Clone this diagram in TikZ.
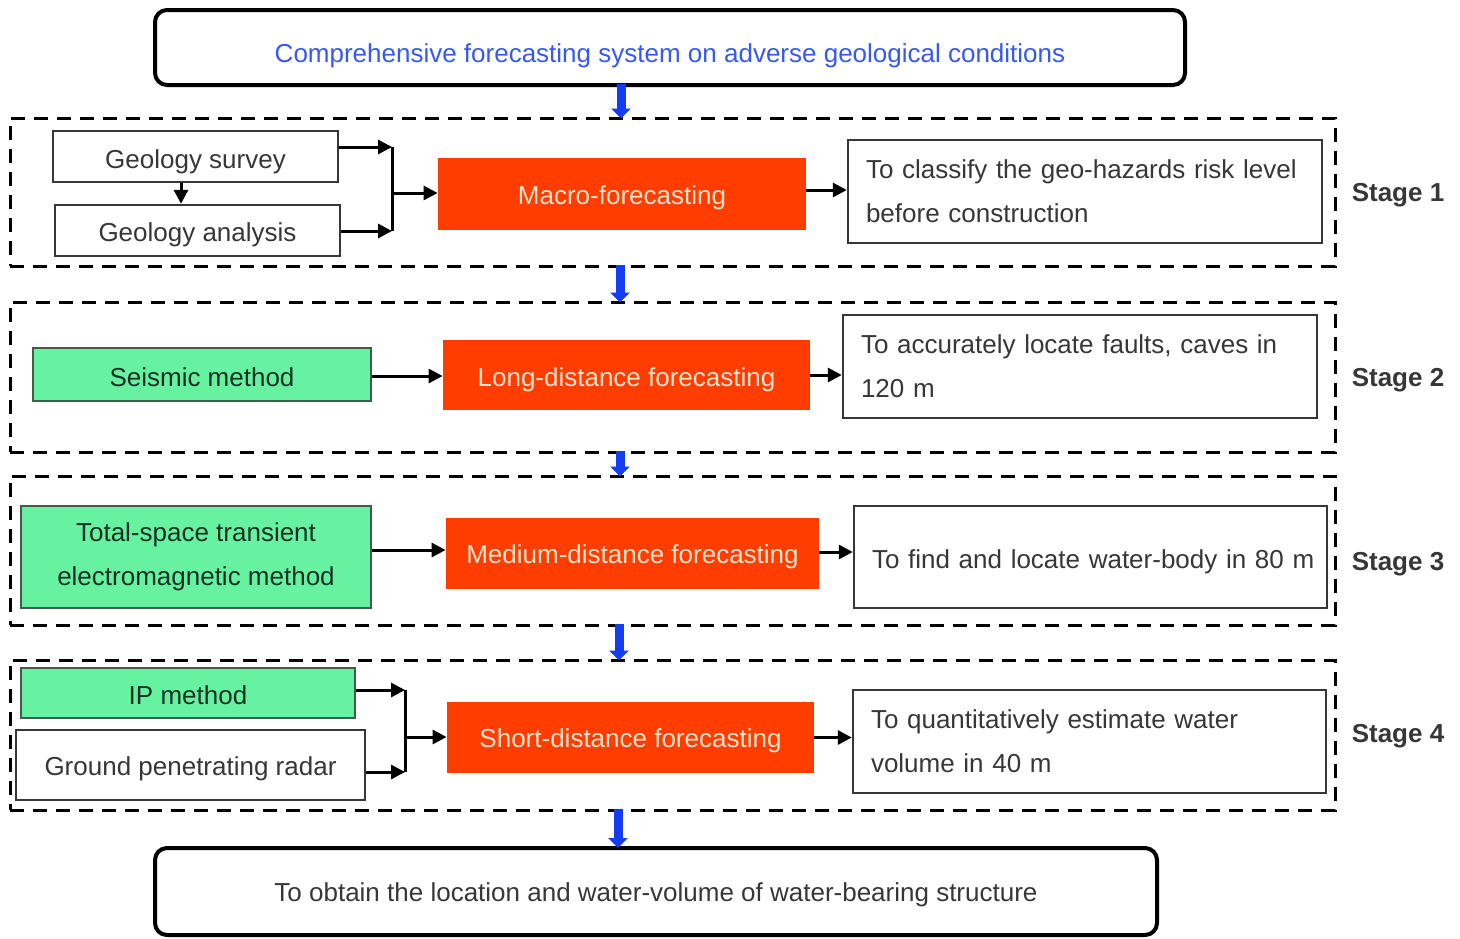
\documentclass[tikz,border=0pt]{standalone}
\usepackage{fontspec}
\setmainfont{Liberation Sans}
\usetikzlibrary{arrows.meta,calc}
\definecolor{fcorange}{RGB}{255,61,0}
\definecolor{fcgreen}{RGB}{102,242,160}
\definecolor{fcblue}{RGB}{20,60,240}
\definecolor{fctext}{RGB}{55,55,55}
\definecolor{fcpeach}{RGB}{255,228,205}
\definecolor{fcdark}{RGB}{20,50,35}
\tikzset{
  every node/.style={font=\fontsize{13}{22}\selectfont},
  oneline/.style={text height=11pt, text depth=0pt},
  endbox/.style={draw=black, line width=2pt, rounded corners=6pt, oneline},
  stagebox/.style={draw=black, line width=1.5pt, dash pattern=on 7pt off 4.5pt},
  plainbox/.style={draw=fctext, line width=1.2pt, fill=white, text=fctext, oneline},
  greenbox/.style={draw=fcdark!80, line width=1.2pt, fill=fcgreen, text=fcdark, align=center},
  hotbox/.style={fill=fcorange, text=fcpeach, oneline},
  notebox/.style={draw=fctext, line width=1.2pt, fill=white, text=fctext, align=left, inner xsep=9pt},
  stagelabel/.style={text=fctext, font=\fontsize{13}{16}\selectfont\bfseries},
  conn/.style={draw=black, line width=1.5pt},
  arr/.style={conn, -{Triangle[length=7pt,width=7pt]}},
  flow/.style={draw=fcblue, line width=4.5pt, -{Triangle[length=5pt,width=9.5pt]}, shorten >=-1pt, shorten <=-1.5pt},
}
\begin{document}
\begin{tikzpicture}[x=0.5pt,y=-0.5pt]
\useasboundingbox (0,0) rectangle (1460,938);

% title and final result
\node[endbox, minimum width=515pt, minimum height=37.5pt, text=fcblue!85, text height=14.5pt] (top) at (670,47.5)
  {Comprehensive forecasting system on adverse geological conditions};
\node[endbox, minimum width=501pt, minimum height=43.5pt, text=fctext, text height=10pt] (bottom) at (656,891.5)
  {To obtain the location and water-volume of water-bearing structure};

% stage frames
\node[stagebox, minimum width=662.5pt, minimum height=74pt] (s1) at (672.5,192) {};
\node[stagebox, minimum width=662.5pt, minimum height=75pt] (s2) at (672.5,377) {};
\node[stagebox, minimum width=662.5pt, minimum height=74.5pt] (s3) at (672.5,550.5) {};
\node[stagebox, minimum width=662.5pt, minimum height=75pt] (s4) at (672.5,735) {};

\node[stagelabel] (l1) at (1398,195) {Stage 1};
\node[stagelabel] (l2) at (1398,380) {Stage 2};
\node[stagelabel] (l3) at (1398,564) {Stage 3};
\node[stagelabel] (l4) at (1398,736) {Stage 4};

% stage 1
\node[plainbox, minimum width=142.5pt, minimum height=25.5pt, text height=11.5pt] (gs) at (195.5,156.5) {Geology survey};
\node[plainbox, minimum width=142.5pt, minimum height=25.5pt] (ga) at (197.5,230.5) {Geology analysis};
\node[hotbox, minimum width=184pt, minimum height=36pt, text height=10pt] (macro) at (622,194) {Macro-forecasting};
\node[notebox, minimum width=237pt, minimum height=51.5pt, text width=219pt] (c1) at (1085,191.5)
  {To classify the geo-hazards risk level\\before construction};

% stage 2
\node[greenbox, oneline, text height=11.5pt, minimum width=169pt, minimum height=26.5pt] (seis) at (202,374.5) {Seismic method};
\node[hotbox, minimum width=183.5pt, minimum height=35pt] (long) at (626.5,375) {Long-distance forecasting};
\node[notebox, minimum width=237pt, minimum height=51.5pt, text width=219pt] (c2) at (1080,366.5)
  {To accurately locate faults, caves in\\120 m};

% stage 3
\node[greenbox, minimum width=175pt, minimum height=51pt] (tem) at (196,557)
  {Total-space transient\\electromagnetic method};
\node[hotbox, minimum width=186.5pt, minimum height=35.5pt, text height=9.5pt] (med) at (632.5,553.5) {Medium-distance forecasting};
\node[notebox, oneline, minimum width=236.5pt, minimum height=51pt, text width=218.5pt] (c3) at (1090.5,557)
  {\mbox{To find and locate water-body in 80 m}};

% stage 4
\node[greenbox, oneline, minimum width=167pt, minimum height=25pt] (ip) at (188,693) {IP method};
\node[plainbox, minimum width=174.5pt, minimum height=35pt, text height=10pt] (gpr) at (190.5,765) {Ground penetrating radar};
\node[hotbox, minimum width=183.5pt, minimum height=35.5pt, text height=9.5pt] (short) at (630.5,737.5) {Short-distance forecasting};
\node[notebox, minimum width=236.5pt, minimum height=51.5pt, text width=218.5pt] (c4) at (1089.5,741.5)
  {To quantitatively estimate water\\volume in 40 m};

% junction points of the merging connectors
\coordinate (j1a) at (392,147);
\coordinate (j1b) at (392,231);
\coordinate (j1)  at (392,193);
\coordinate (j4a) at (405,690);
\coordinate (j4b) at (405,772);
\coordinate (j4)  at (405,737);

% stage 1 connectors
\draw[arr] (gs.south -| 181,0) -- (ga.north -| 181,0);
\draw[arr] (gs.east |- j1a) -- (j1a);
\draw[arr] (ga.east |- j1b) -- (j1b);
\draw[conn] (j1a) -- (j1b);
\draw[arr] (j1) -- (macro.west |- j1);
\draw[arr] (macro.east |- 0,190) -- (c1.west |- 0,190);

% stage 2 connectors
\draw[arr] (seis.east |- 0,376) -- (long.west |- 0,376);
\draw[arr] (long.east) -- (c2.west |- long.east);

% stage 3 connectors
\draw[arr] (tem.east |- 0,550) -- (med.west |- 0,550);
\draw[arr] (med.east |- 0,552) -- (c3.west |- 0,552);

% stage 4 connectors
\draw[arr] (ip.east |- j4a) -- (j4a);
\draw[arr] (gpr.east |- j4b) -- (j4b);
\draw[conn] (j4a) -- (j4b);
\draw[arr] (j4) -- (short.west |- j4);
\draw[arr] (short.east) -- (c4.west |- short.east);

% flow between stages
\draw[flow] (top.south -| 621,0) -- (s1.north -| 621,0);
\draw[flow] (s1.south -| 620,0) -- (s2.north -| 620,0);
\draw[flow] (s2.south -| 620,0) -- (s3.north -| 620,0);
\draw[flow] (s3.south -| 619,0) -- (s4.north -| 619,0);
\draw[flow] (s4.south -| 618,0) -- (bottom.north -| 618,0);
\end{tikzpicture}
\end{document}
